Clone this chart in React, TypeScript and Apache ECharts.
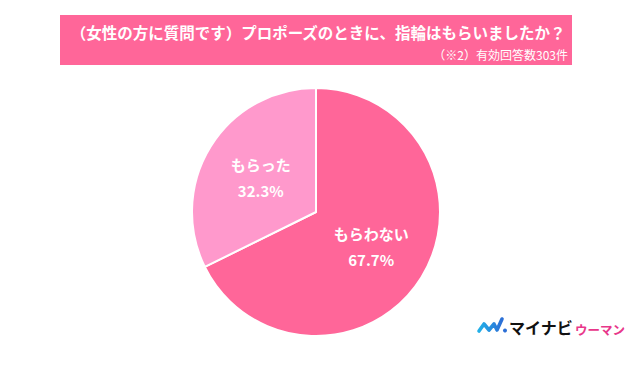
import React, { useEffect, useRef } from "react";
import * as echarts from "echarts";

const categories = ["もらわない", "もらった"];
const values = [67.7, 32.3];
const sliceColors = ["#FF6699", "#FF99CC"];
const titleText = "（女性の方に質問です）プロポーズのときに、指輪はもらいましたか？";
const subText = "（※2）有効回答数303件";

export default function App() {
  const ref = useRef<HTMLDivElement>(null);
  useEffect(() => {
    if (!ref.current) return;
    const chart = echarts.init(ref.current, null, { renderer: "svg" });
    const font = '"Noto Sans CJK JP", "Noto Sans", sans-serif';
    chart.setOption({
      animation: false,
      backgroundColor: "#ffffff",
      graphic: [
        {
          type: "rect",
          shape: { x: 60, y: 15, width: 512, height: 50 },
          style: { fill: "#FF6699" },
          z: 0,
        },
        {
          type: "text",
          x: 318,
          y: 32,
          style: {
            text: titleText,
            fill: "#ffffff",
            font: `bold 15.5px ${font}`,
            align: "center",
            verticalAlign: "middle",
          },
          z: 1,
        },
        {
          type: "text",
          x: 568,
          y: 54,
          style: {
            text: subText,
            fill: "#ffffff",
            font: `12px ${font}`,
            align: "right",
            verticalAlign: "middle",
          },
          z: 1,
        },
        {
          type: "polyline",
          shape: {
            points: [
              [479, 331],
              [484, 324],
              [489, 330],
              [494, 324],
              [497, 330],
              [502, 319],
            ],
          },
          style: {
            stroke: new echarts.graphic.LinearGradient(0, 0, 1, 0, [
              { offset: 0, color: "#22B0E8" },
              { offset: 1, color: "#2C6FD6" },
            ]),
            lineWidth: 3.6,
            lineCap: "round",
            lineJoin: "round",
            fill: null,
          },
        },
        {
          type: "circle",
          shape: { cx: 505, cy: 330.5, r: 2 },
          style: { fill: "#2C6FD6" },
        },
        {
          type: "text",
          x: 509,
          y: 327,
          style: {
            text: "マイナビ",
            fill: "#111111",
            font: `bold 16px ${font}`,
            align: "left",
            verticalAlign: "middle",
          },
        },
        {
          type: "text",
          x: 575,
          y: 329,
          style: {
            text: "ウーマン",
            fill: "#E8378A",
            font: `bold 12.5px ${font}`,
            align: "left",
            verticalAlign: "middle",
          },
        },
      ],
      series: [
        {
          type: "pie",
          center: [316, 212],
          radius: [0, 124],
          startAngle: 90,
          clockwise: true,
          label: {
            show: true,
            position: "inside",
            formatter: "{b}\n{c}%",
            color: "#ffffff",
            fontSize: 15,
            fontWeight: "bold",
            fontFamily: font,
            lineHeight: 26,
          },
          labelLine: { show: false },
          itemStyle: { borderColor: "#ffffff", borderWidth: 2 },
          emphasis: { disabled: true },
          data: categories.map((c, i) => ({
            name: c,
            value: values[i],
            itemStyle: { color: sliceColors[i] },
          })),
        },
      ],
    });
    return () => chart.dispose();
  }, []);
  return <div ref={ref} style={{ width: 634, height: 366, margin: -8 }} />;
}
